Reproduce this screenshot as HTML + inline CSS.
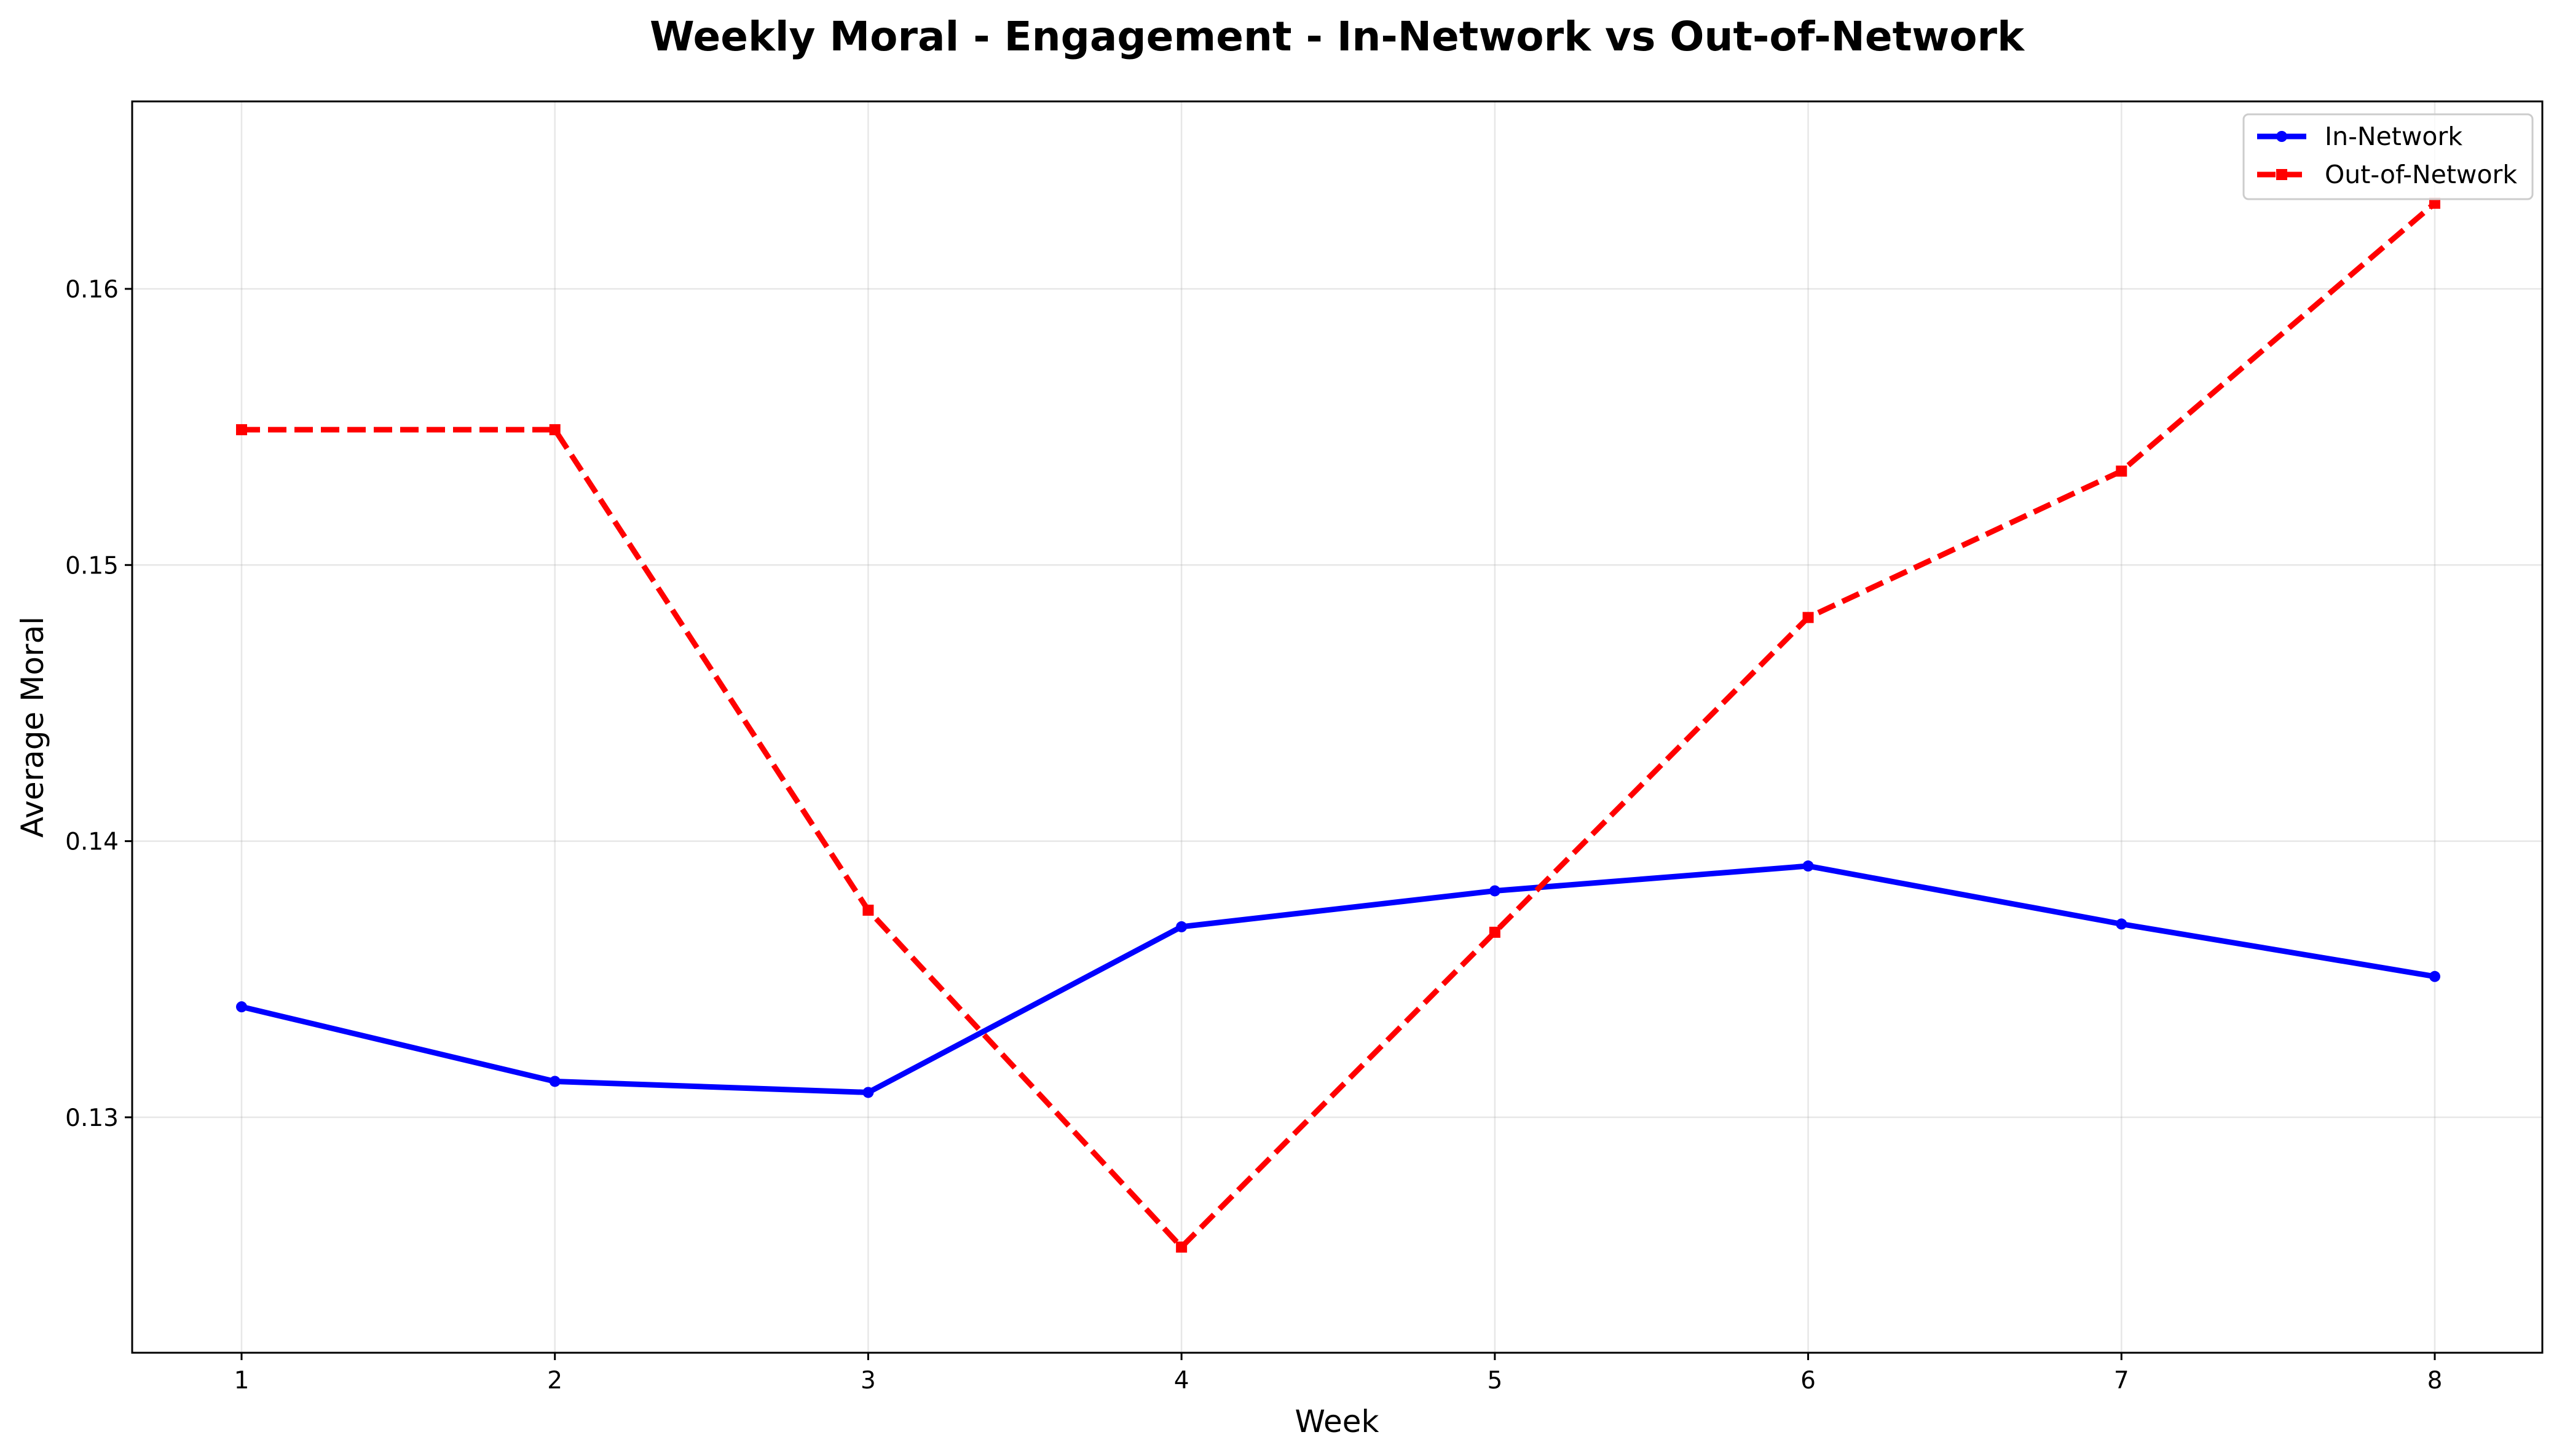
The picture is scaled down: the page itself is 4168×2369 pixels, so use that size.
<!DOCTYPE html>
<html><head><meta charset="utf-8"><style>
html,body{margin:0;padding:0;background:#fff;}
svg{display:block;font-family:"DejaVu Sans","Liberation Sans",sans-serif;}
</style></head><body>
<svg id="chart" width="4168" height="2369" viewBox="0 0 4168 2369" xmlns="http://www.w3.org/2000/svg">
<rect width="4168" height="2369" fill="#fff"/>
<text x="2175" y="82" text-anchor="middle" font-size="66" font-weight="bold">Weekly Moral - Engagement - In-Network vs Out-of-Network</text>
<g id="grid"></g>
<g id="axes"></g>
<g id="series"></g>
<rect x="215" y="165" width="3921" height="2036" fill="none" stroke="#000" stroke-width="3"/>
<text x="2175" y="2330" text-anchor="middle" font-size="50">Week</text>
<text transform="translate(70,1183) rotate(-90)" text-anchor="middle" font-size="50">Average Moral</text>
<g>
<rect x="3650" y="186" width="470" height="138" rx="8" fill="#fff" fill-opacity="0.8" stroke="#ccc" stroke-width="3"/>
<g>
<line x1="3672" y1="222" x2="3752" y2="222" stroke="#0000ff" stroke-width="9"/>
<circle cx="3712" cy="222" r="9" fill="#0000ff"/>
<text x="3782" y="236" font-size="41">In-Network</text></g>
<g>
<line x1="3672" y1="284" x2="3752" y2="284" stroke="#ff0000" stroke-width="9" stroke-dasharray="30,13"/>
<rect x="3703" y="275" width="18" height="18" fill="#ff0000"/>
<text x="3782" y="298" font-size="41">Out-of-Network</text></g>
</g>
</svg>
<script>
const weeks=[1,2,3,4,5,6,7,8];
const inNetwork=[0.1340,0.1313,0.1309,0.1369,0.1382,0.1391,0.1370,0.1351];
const outNetwork=[0.1549,0.1549,0.1375,0.1253,0.1367,0.1481,0.1534,0.1631];
const yTicks=[0.13,0.14,0.15,0.16];
const NS="http://www.w3.org/2000/svg";
const L=215,R=4136,T=165,B=2201;
const xs=w=>393+(w-1)*(3961-393)/7;
const ys=v=>470+(0.16-v)*44930;
function mk(tag,attrs,parent){const e=document.createElementNS(NS,tag);for(const k in attrs)e.setAttribute(k,attrs[k]);parent.appendChild(e);return e;}
const grid=document.getElementById('grid'),axes=document.getElementById('axes'),series=document.getElementById('series');
weeks.forEach(w=>{
 const x=xs(w);
 const g=mk('line',{x1:x,x2:x,y1:T,y2:B,stroke:'#b0b0b0','stroke-opacity':0.3,'stroke-width':2.5},grid);
 
 
 mk('line',{x1:x,x2:x,y1:B,y2:B+12,stroke:'#000','stroke-width':3},axes);
 const t=mk('text',{x:x,y:B+58,'text-anchor':'middle','font-size':39},axes);t.textContent=w;
 
 
});
yTicks.forEach(v=>{
 const y=ys(v);
 const g=mk('line',{x1:L,x2:R,y1:y,y2:y,stroke:'#b0b0b0','stroke-opacity':0.3,'stroke-width':2.5},grid);
 
 
 mk('line',{x1:L-12,x2:L,y1:y,y2:y,stroke:'#000','stroke-width':3},axes);
 const t=mk('text',{x:L-22,y:y+14,'text-anchor':'end','font-size':39},axes);t.textContent=v.toFixed(2);
 
 
});
function draw(vals,color,dash,marker,name){
 const pts=vals.map((v,i)=>xs(weeks[i])+','+ys(v)).join(' ');
 const pl=mk('polyline',{points:pts,fill:'none',stroke:color,'stroke-width':9,'stroke-linejoin':'round'},series);
 if(dash)pl.setAttribute('stroke-dasharray',dash);
 
 
 vals.forEach((v,i)=>{
  let m;
  if(marker==='circle')m=mk('circle',{cx:xs(weeks[i]),cy:ys(v),r:9,fill:color},series);
  else m=mk('rect',{x:xs(weeks[i])-9,y:ys(v)-9,width:18,height:18,fill:color},series);
  
  
 });
}
draw(inNetwork,'#0000ff',null,'circle','in-network');
draw(outNetwork,'#ff0000','30,13','square','out-of-network');
</script>
</body></html>
